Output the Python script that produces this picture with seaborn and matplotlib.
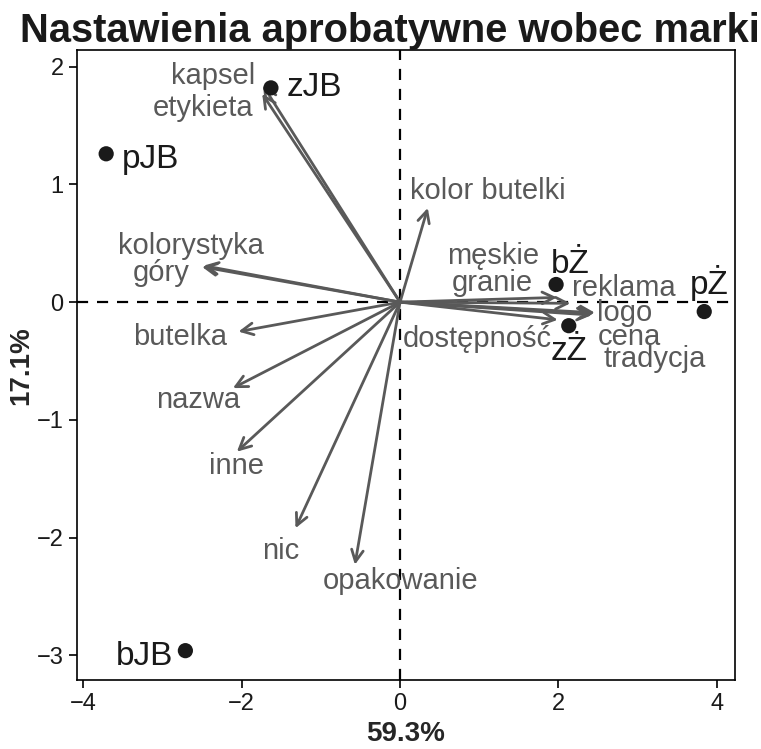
import numpy as np
import pandas as pd
import matplotlib
matplotlib.use("Agg")
import matplotlib.pyplot as plt
import seaborn as sns

# individuals (brand groups)
groups = ["zJB", "pJB", "bJB", "bŻ", "zŻ", "pŻ"]
dim1 = [-1.63, -3.71, -2.71, 1.97, 2.13, 3.84]
dim2 = [1.82, 1.26, -2.96, 0.15, -0.20, -0.08]

# variables (arrows)
variables = ["kapsel", "etykieta", "kolor butelki", "kolorystyka", "góry",
             "butelka", "nazwa", "inne", "nic", "opakowanie",
             "męskie\ngranie", "reklama", "logo", "cena", "tradycja", "dostępność"]
var_x = [-1.73, -1.74, 0.35, -2.50, -2.48, -2.04, -2.11, -2.06, -1.32, -0.57,
         1.98, 2.15, 2.46, 2.44, 2.42, 1.99]
var_y = [1.84, 1.77, 0.80, 0.30, 0.31, -0.25, -0.73, -1.27, -1.92, -2.23,
         0.04, -0.01, -0.09, -0.10, -0.11, -0.15]

# label placement (repelled text positions)
var_lab_x = [-2.36, -2.49, 1.11, -2.64, -3.02, -2.78, -2.55, -2.07, -1.51, 0.01,
             1.17, 2.83, 2.84, 2.90, 3.22, 0.98]
var_lab_y = [1.92, 1.65, 0.94, 0.48, 0.25, -0.30, -0.83, -1.39, -2.11, -2.37,
             0.28, 0.12, -0.09, -0.30, -0.48, -0.31]
grp_lab_x = [-1.08, -3.15, -3.22, 2.15, 2.13, 3.90]
grp_lab_y = [1.82, 1.21, -3.01, 0.32, -0.42, 0.16]

pts = pd.DataFrame({"Dim1": dim1, "Dim2": dim2, "grupa": groups})

sns.set_theme(style="white")
plt.rcParams["font.family"] = ["Liberation Sans", "DejaVu Sans"]

fig = plt.figure(figsize=(7.61, 7.49), dpi=100)
ax = fig.add_axes([0.101, 0.092, 0.865, 0.841])

grey = "#595959"

ax.axhline(0, color="black", lw=1.6, ls=(0, (5, 4)), zorder=1)
ax.axvline(0, color="black", lw=1.6, ls=(0, (5, 4)), zorder=1)

for x, y in zip(var_x, var_y):
    ax.annotate("", xy=(x, y), xytext=(0, 0),
                arrowprops=dict(arrowstyle="->,head_length=0.7,head_width=0.35",
                                color=grey, lw=2, shrinkA=0, shrinkB=0),
                zorder=2)

for lab, x, y in zip(variables, var_lab_x, var_lab_y):
    ax.text(x, y, lab, color=grey, fontsize=21, ha="center", va="center",
            linespacing=0.95, zorder=3)

sns.scatterplot(data=pts, x="Dim1", y="Dim2", color="#1a1a1a", s=120,
                edgecolor="none", ax=ax, zorder=4, legend=False)

for lab, x, y in zip(groups, grp_lab_x, grp_lab_y):
    ax.text(x, y, lab, color="#1a1a1a", fontsize=24, ha="center", va="center",
            zorder=5)

ax.set_xlim(-4.08, 4.23)
ax.set_ylim(-3.21, 2.14)
ax.set_xticks([-4, -2, 0, 2, 4])
ax.set_yticks([-3, -2, -1, 0, 1, 2])
ax.set_xticklabels(["\u22124", "\u22122", "0", "2", "4"])
ax.set_yticklabels(["\u22123", "\u22122", "\u22121", "0", "1", "2"])
ax.tick_params(axis="both", which="major", labelsize=17, direction="out",
               length=6, width=1.2, color="black", labelcolor="#1a1a1a",
               bottom=True, left=True)
for s in ax.spines.values():
    s.set_color("black")
    s.set_linewidth(1.2)

ax.set_xlabel("59.3%", fontsize=20, fontweight="bold", labelpad=4)
ax.set_ylabel("17.1%", fontsize=20, fontweight="bold", labelpad=2)
fig.text(0.026, 0.958, "Nastawienia aprobatywne wobec marki", fontsize=28.7,
         fontweight="bold", ha="left", va="center", color="#1a1a1a")

fig.savefig("out.png", dpi=100)
